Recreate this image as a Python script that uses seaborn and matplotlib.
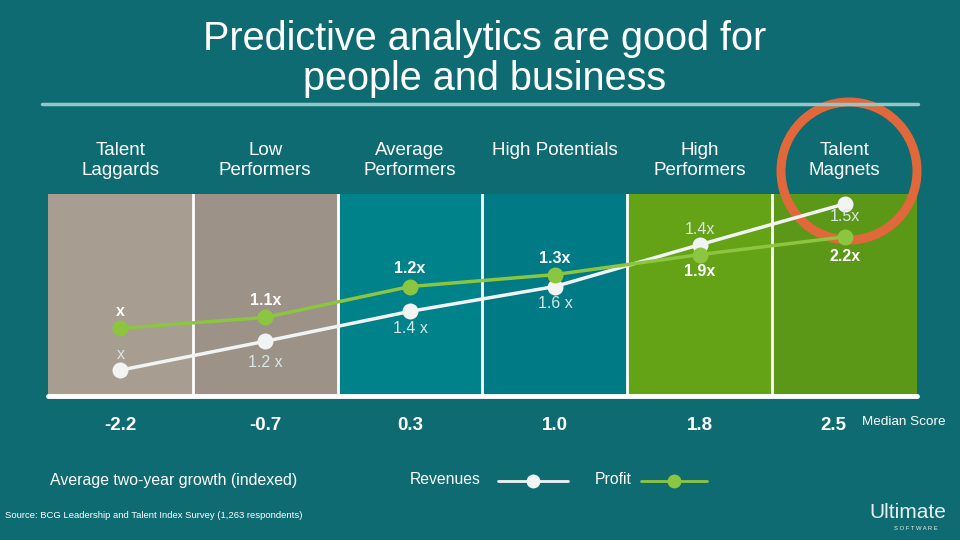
import matplotlib
matplotlib.use("Agg")
import matplotlib.pyplot as plt
import matplotlib.transforms as mtransforms
from matplotlib.patches import Ellipse
from matplotlib.lines import Line2D
import seaborn as sns
import pandas as pd

# ---------------- data ----------------
categories = ["Talent\nLaggards", "Low\nPerformers", "Average\nPerformers",
              "High Potentials", "High\nPerformers", "Talent\nMagnets"]
median_scores = ["-2.2", "-0.7", "0.3", "1.0", "1.8", "2.5"]
revenue_labels = ["x", "1.2 x", "1.4 x", "1.6 x", "1.4x", "1.5x"]
profit_labels = ["x", "1.1x", "1.2x", "1.3x", "1.9x", "2.2x"]
# plotted height of each point in the (schematic) chart, 0 = baseline, 100 = panel top
revenue_level = [12.8, 27.1, 41.9, 54.2, 74.9, 95.1]
profit_level = [33.5, 38.9, 54.2, 60.1, 70.0, 78.8]

# ---------------- styles ----------------
BG = "#0e6b72"
col_colors = ["#a89d91", "#9d9287", "#00828b", "#007b85", "#64a216", "#5c9818"]
WHITE = "#f2f4f4"
GREEN = "#8cc540"
ORANGE = "#e0683a"
# label vertical offsets in pixels (negative = above the point)
rev_off = [-16, 21, 17, 17, -15, 13]
pro_off = [-17, -17, -18, -16, 17, 20]

sns.set_theme(style="white")
plt.rcParams["font.family"] = ["Liberation Sans", "DejaVu Sans"]

fig = plt.figure(figsize=(9.6, 5.4), dpi=100, facecolor=BG)


def fx(px):
    return px / 960.0


def fy(py):
    return 1.0 - py / 540.0


L, R, T, B = 48, 917, 194, 396
ax = fig.add_axes([fx(L), fy(B), fx(R) - fx(L), fy(T) - fy(B)])
ax.set_facecolor(BG)
pos = list(range(len(categories)))

# column backgrounds
ax.bar(pos, [100] * len(pos), width=1.0, color=col_colors, linewidth=0, zorder=1)
for p in pos[:-1]:
    ax.axvline(p + 0.5, color="white", lw=2, zorder=1.5)
ax.axhline(0, color="white", lw=3.5, zorder=1.6, clip_on=False)

# orange circle
ax.add_patch(Ellipse((fx(849), fy(171)), width=fx(136), height=138 / 540.0,
                     transform=fig.transFigure, fill=False, edgecolor=ORANGE,
                     lw=6.5, clip_on=False, zorder=2))

df = pd.DataFrame({
    "pos": pos * 2,
    "level": revenue_level + profit_level,
    "series": ["Revenues"] * len(pos) + ["Profit"] * len(pos),
})
sns.lineplot(data=df, x="pos", y="level", hue="series",
             palette={"Revenues": WHITE, "Profit": GREEN},
             marker="o", markersize=11.5, markeredgewidth=0, lw=2.5,
             legend=False, ax=ax, zorder=3)

for p, lv, lab, off in zip(pos, revenue_level, revenue_labels, rev_off):
    ax.annotate(lab, (p, lv), xytext=(0, -off * 0.72), textcoords="offset points",
                ha="center", va="center", fontsize=11.5, color="#d8e6e7",
                fontweight="light", zorder=5)
for p, lv, lab, off in zip(pos, profit_level, profit_labels, pro_off):
    ax.annotate(lab, (p, lv), xytext=(0, -off * 0.72), textcoords="offset points",
                ha="center", va="center", fontsize=11.5, color="white",
                fontweight="bold", zorder=5)

ax.set_xlim(-0.5, len(pos) - 0.5)
ax.set_ylim(0, 100)
ax.set_xticks([])
ax.set_yticks([])
ax.set_xlabel("")
ax.set_ylabel("")
for s in ax.spines.values():
    s.set_visible(False)

blend = mtransforms.blended_transform_factory(ax.transData, fig.transFigure)

# column headers
for p, c in zip(pos, categories):
    ax.text(p, fy(142), c, transform=blend, ha="center", va="top",
            fontsize=13.5, color="white", linespacing=1.22, clip_on=False)

# median scores
for p, m in zip(pos, median_scores):
    xo = -0.08 if p == len(pos) - 1 else 0
    ax.text(p + xo, fy(425), m, transform=blend, ha="center", va="center",
            fontsize=13.5, fontweight="bold", color="white", clip_on=False)
fig.text(fx(862), fy(422), "Median Score", ha="left", va="center",
         fontsize=9.7, color="white")

# title
fig.text(fx(485), fy(59), "Predictive analytics are good for\npeople and business",
         ha="center", va="center", fontsize=28.5, color="white", linespacing=1.1)
fig.add_artist(Line2D([fx(42), fx(918)], [fy(104), fy(104)], color="#93c6c9", lw=2.5))

# bottom legend area
fig.text(fx(50), fy(481), "Average two-year growth (indexed)", ha="left", va="center",
         fontsize=11.4, color="white", fontweight="light")
fig.text(fx(410), fy(479), "Revenues", ha="left", va="center",
         fontsize=11.3, color="white", fontweight="light")
fig.add_artist(Line2D([fx(498), fx(568)], [fy(481)] * 2, color=WHITE, lw=2))
fig.add_artist(Line2D([fx(533)], [fy(481)], color=WHITE, marker="o", markersize=10,
                      markeredgewidth=0))
fig.text(fx(595), fy(479), "Profit", ha="left", va="center",
         fontsize=11.3, color="white", fontweight="light")
fig.add_artist(Line2D([fx(641), fx(707)], [fy(481)] * 2, color=GREEN, lw=2))
fig.add_artist(Line2D([fx(674)], [fy(481)], color=GREEN, marker="o", markersize=10,
                      markeredgewidth=0))

fig.text(fx(5), fy(516), "Source: BCG Leadership and Talent Index Survey (1,263 respondents)",
         ha="left", va="center", fontsize=6.8, color="white")

# logo
fig.text(fx(908), fy(512), "Ultimate", ha="center", va="center", fontsize=15,
         color="#e8eeee")
fig.text(fx(916), fy(528), "S O F T W A R E", ha="center", va="center", fontsize=4.2,
         color="#e8eeee")

fig.savefig("out.png", dpi=100, facecolor=BG)
